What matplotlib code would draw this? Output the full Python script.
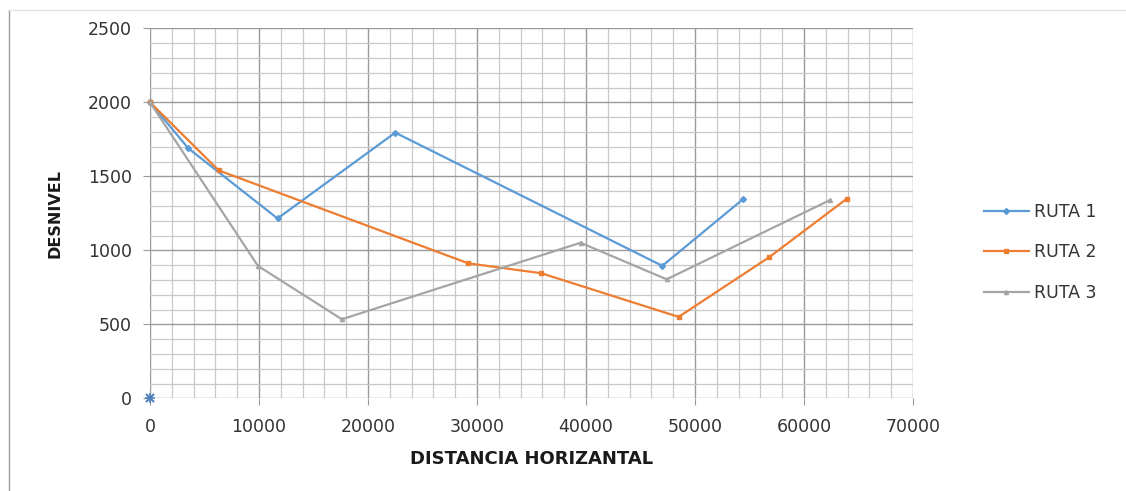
import matplotlib
matplotlib.use("Agg")
import matplotlib.pyplot as plt
from matplotlib.lines import Line2D
from matplotlib.ticker import MultipleLocator

plt.rcParams['font.family'] = ['DejaVu Sans']

# Route profiles: horizontal distance vs. elevation
ruta1_x = [0, 3500, 11700, 22500, 47000, 54400]
ruta1_y = [2000, 1690, 1215, 1795, 895, 1345]

ruta2_x = [0, 6300, 29200, 35900, 48500, 56800, 63900]
ruta2_y = [2000, 1540, 912, 845, 550, 953, 1347]

ruta3_x = [0, 9900, 17600, 39500, 47400, 62400]
ruta3_y = [2000, 895, 534, 1051, 804, 1340]

origin_x = [0]
origin_y = [0]

series_labels = ["RUTA 1", "RUTA 2", "RUTA 3"]
colors = ["#5B9BD5", "#ED7D31", "#A5A5A5"]
markers = ["D", "s", "^"]

fig = plt.figure(figsize=(11.26, 4.91), dpi=100)
ax = fig.add_axes([150 / 1126, 1 - 398.3 / 491, (913 - 150) / 1126, (398.3 - 28.3) / 491])

for xs, ys, lab, col, mk in zip([ruta1_x, ruta2_x, ruta3_x],
                                [ruta1_y, ruta2_y, ruta3_y],
                                series_labels, colors, markers):
    ax.plot(xs, ys, color=col, lw=1.6, marker=mk, ms=3, label=lab,
            zorder=3, clip_on=False)

ax.plot(origin_x, origin_y, linestyle="none", marker="x", ms=6, mew=1.5,
        color="#4F81BD", zorder=4, clip_on=False)
ax.plot(origin_x, origin_y, linestyle="none", marker="+", ms=7, mew=1.2,
        color="#4F81BD", zorder=4, clip_on=False)

ax.set_xlim(0, 70000)
ax.set_ylim(0, 2500)
ax.xaxis.set_major_locator(MultipleLocator(10000))
ax.xaxis.set_minor_locator(MultipleLocator(2000))
ax.yaxis.set_major_locator(MultipleLocator(500))
ax.yaxis.set_minor_locator(MultipleLocator(100))

ax.grid(which="major", color="#9a9a9a", lw=1.0, zorder=1)
ax.grid(which="minor", color="#c8c8c8", lw=0.9, zorder=1)
ax.set_axisbelow(True)
for s in ax.spines.values():
    s.set_visible(False)

ax.tick_params(axis="both", which="minor", length=0)
ax.tick_params(axis="x", which="major", length=5, color="#9a9a9a", pad=9,
               labelsize=12.5, labelcolor="#333333")
ax.tick_params(axis="y", which="major", length=5, color="#9a9a9a", pad=8,
               labelsize=12.5, labelcolor="#333333")

ax.set_xlabel("DISTANCIA HORIZANTAL", fontsize=13, fontweight="bold",
              color="#1a1a1a", labelpad=10)
ax.set_ylabel("DESNIVEL", fontsize=11.5, fontweight="bold", color="#1a1a1a",
              labelpad=18)

ax.legend(loc="center left", bbox_to_anchor=(1.072, 0.395), frameon=False,
          fontsize=12.5, handlelength=2.6, labelspacing=1.3,
          handletextpad=0.3, labelcolor="#333333")

# outer chart frame
fig.add_artist(Line2D([9 / 1126, 9 / 1126], [0, 1 - 10 / 491],
                      transform=fig.transFigure, color="#9a9a9a", lw=1.0))
fig.add_artist(Line2D([9 / 1126, 1], [1 - 10 / 491, 1 - 10 / 491],
                      transform=fig.transFigure, color="#e4e4e4", lw=1.0))

fig.savefig("out.png", dpi=100, facecolor="white")
